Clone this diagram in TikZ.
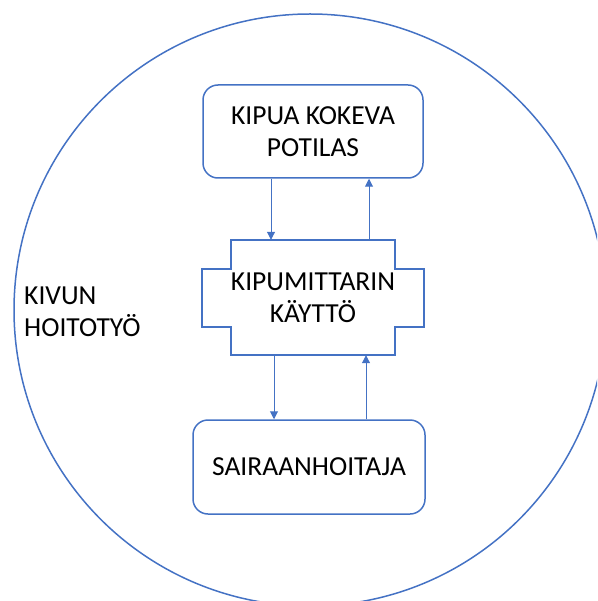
\documentclass[tikz,border=0pt]{standalone}
\usepackage{fontspec}
\setmainfont{Carlito}
\usetikzlibrary{arrows.meta}
\definecolor{officeblue}{HTML}{4472C4}

\begin{document}
\begin{tikzpicture}[x=1pt,y=-1pt,officeblue,
	box/.style={draw,line width=1.5pt,rounded corners=15pt,inner sep=0pt,align=center,text=black},
	link/.style={line width=1pt,-{Triangle[width=8pt,length=8pt]}}]
	\useasboundingbox (0,0) rectangle (597,601);
	\clip (0,0) rectangle (597,601);
	\fontsize{27.5}{32}\selectfont

	%CARE
	\draw[line width=1.5pt] (310,310) circle (296);
	\node[anchor=west,align=left,inner sep=0pt,text=black] (hoitotyo) at (24,312) {KIVUN\\HOITOTYÖ};

	%BOXES
	\node[box,minimum width=220pt,minimum height=93pt] (potilas) at (313,131.5) {KIPUA KOKEVA\\POTILAS};
	\node[inner sep=0pt,minimum width=162pt,minimum height=115pt,align=center,text=black] (kaytto) at (313,297.5) {KIPUMITTARIN\\KÄYTTÖ};
	\node[box,minimum width=232pt,minimum height=94pt] (hoitaja) at (309,467) {SAIRAANHOITAJA};

	%PLAQUE
	\draw[line width=1.5pt] (kaytto.north west) -- (kaytto.north east) -- ++(0,29) -- ++(29,0)
		-- ++(0,58) -- ++(-29,0) -- (kaytto.south east) -- (kaytto.south west) -- ++(0,-28)
		-- ++(-29,0) -- ++(0,-58) -- ++(29,0) -- cycle;

	%ARCS
	\draw[link] (potilas.south -| 271,0) -- (kaytto.north -| 271,0);
	\draw[link] (kaytto.north -| 369,0) -- (potilas.south -| 369,0);
	%
	\draw[link] (kaytto.south -| 274,0) -- (hoitaja.north -| 274,0);
	\draw[link] (hoitaja.north -| 366,0) -- (kaytto.south -| 366,0);
\end{tikzpicture}
\end{document}
